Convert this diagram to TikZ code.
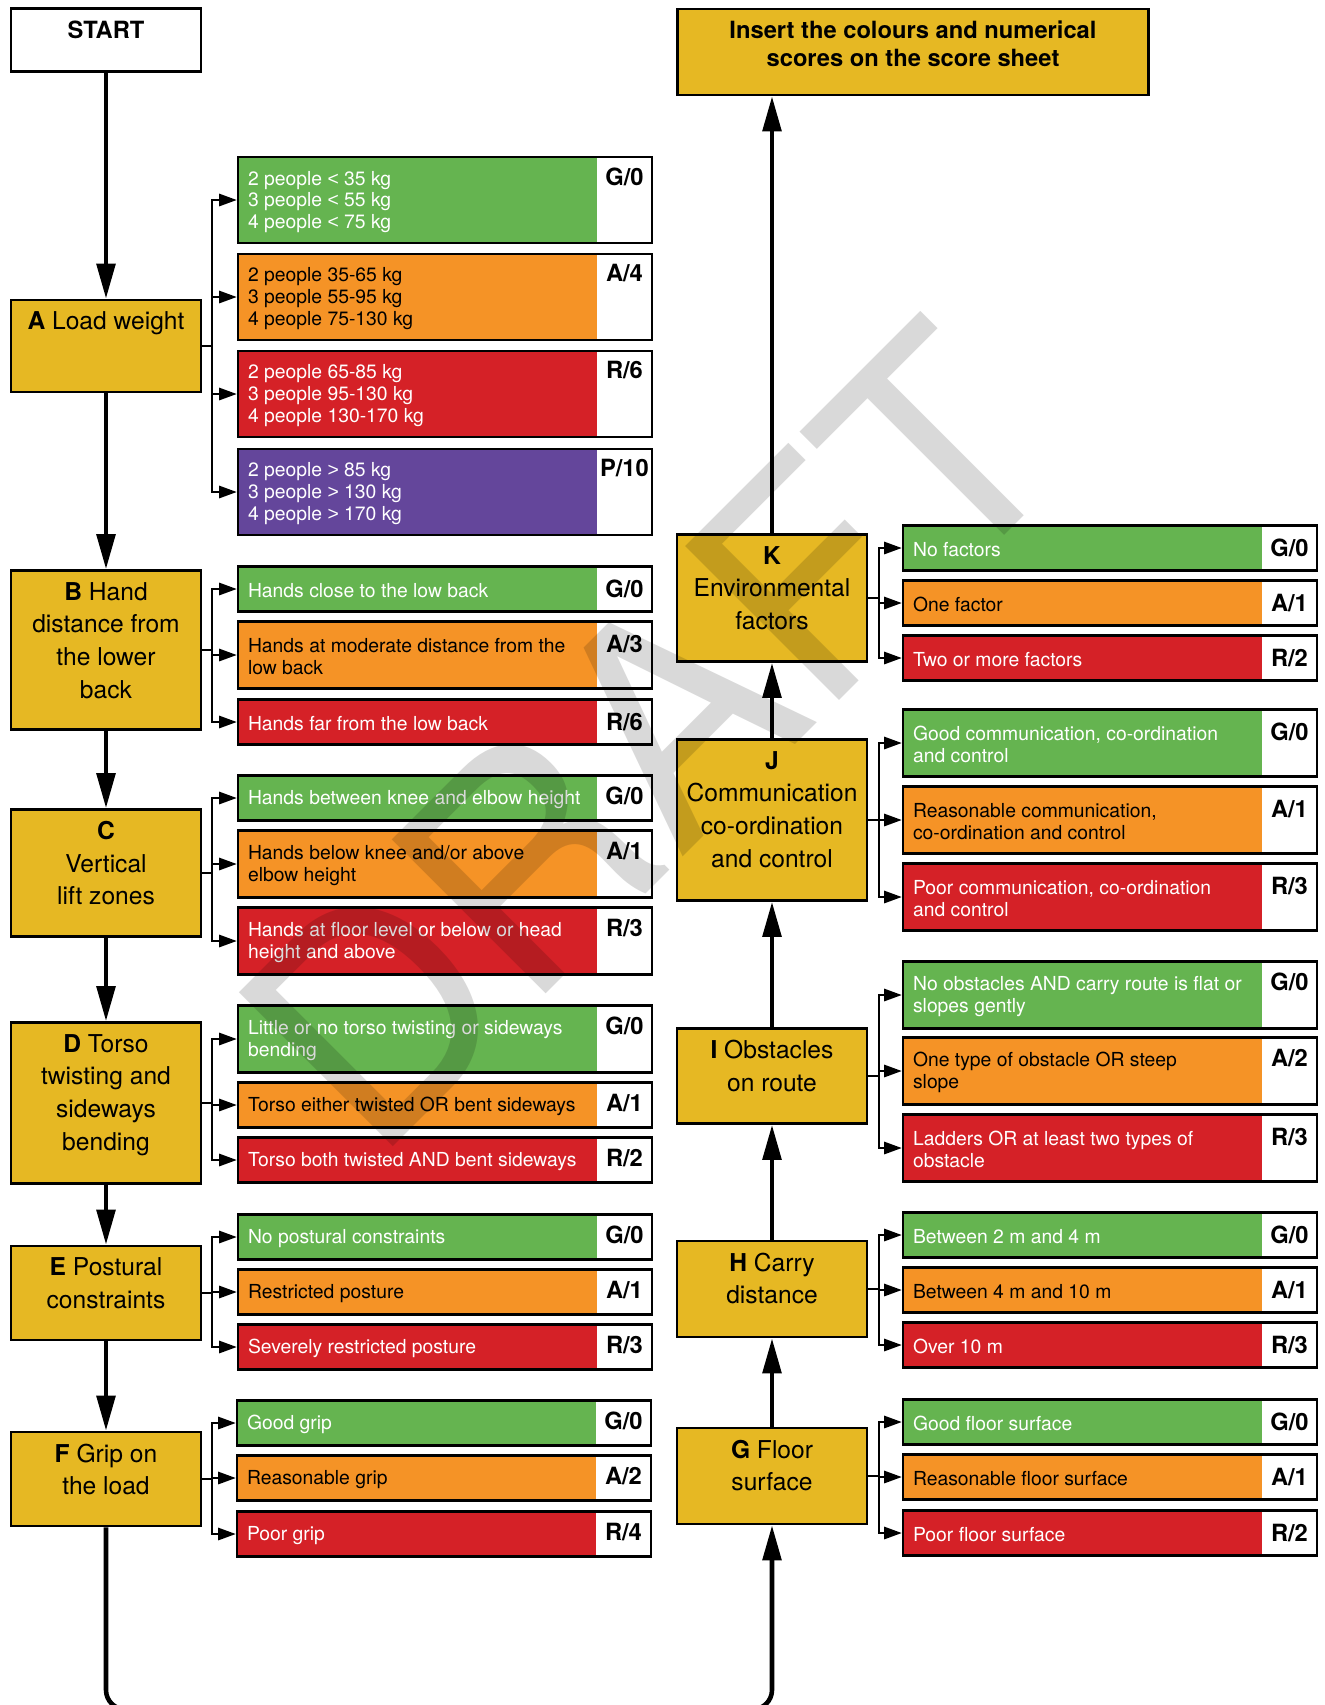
\documentclass[tikz,border=0pt]{standalone}
\usepackage{fontspec}
\setmainfont{TeX Gyre Heros}
\newfontfamily\relfont{Liberation Sans}
\usetikzlibrary{arrows.meta}

\definecolor{stagey}{RGB}{230,184,35}
\definecolor{boxgreen}{RGB}{101,180,80}
\definecolor{boxorange}{RGB}{245,147,38}
\definecolor{boxred}{RGB}{213,33,39}
\definecolor{boxpurple}{RGB}{100,70,155}

% text of an option row and its score cell
\newcommand{\choice}[2]{\hspace*{0.2cm}\parbox[t]{6.98cm}{\raggedright #1}\parbox[t]{1.1cm}{\leavevmode\centering\bfseries\fontsize{13.5}{14}\selectfont\textcolor{black}{#2}}}
\newcommand{\lt}{{\relfont<}}
\newcommand{\gt}{{\relfont>}}

\tikzset{
  stage/.style={draw=black, line width=1.5pt, fill=stagey, minimum width=3.8cm, inner sep=0pt},
  stagetext/.style={anchor=north, yshift=-0.26cm, align=center, inner sep=0pt, font=\fontsize{14}{18.5}\selectfont},
  opt/.style={draw=black, line width=1.5pt, inner sep=0pt, minimum width=8.28cm, font=\fontsize{11}{12.3}\selectfont,
    path picture={\fill[white] ([xshift=-1.1cm]path picture bounding box.north east) rectangle (path picture bounding box.south east);}},
  optg/.style={opt, fill=boxgreen, text=white},
  opta/.style={opt, fill=boxorange, text=black},
  optr/.style={opt, fill=boxred, text=white},
  optp/.style={opt, fill=boxpurple, text=white},
  oneline/.style={minimum height=0.9cm},
  twoline/.style={minimum height=1.34cm},
  threeline/.style={minimum height=1.72cm},
  flow/.style={line width=2.6pt, -{Triangle[length=20pt, width=10.5pt]}},
  branch/.style={line width=1.1pt, -{Triangle[length=10pt, width=7pt]}},
  draft/.style={rotate=45, anchor=base west, inner sep=0pt, text=black, text opacity=0.15, font=\fontsize{170}{170}\selectfont}
}

\begin{document}
\begin{tikzpicture}[x=0.02cm, y=-0.02cm]
  \useasboundingbox (0,0) rectangle (1325,1705);
  \clip (0,0) rectangle (1325,1705);

  % left column
  \node[stage, fill=white, minimum height=1.26cm, label={[stagetext, font=\bfseries\fontsize{13.5}{16}\selectfont]north:START}] (start) at (106,40) {};
  \node[stage, minimum height=1.84cm, label={[stagetext]north:{\textbf{A} Load weight}}] (loadA) at (106,346) {};
  \node[stage, minimum height=3.18cm, label={[stagetext]north:{\textbf{B} Hand\\distance from\\the lower\\back}}] (handB) at (106,650) {};
  \node[stage, minimum height=2.54cm, label={[stagetext]north:{\textbf{C}\\Vertical\\lift zones}}] (liftC) at (106,873) {};
  \node[stage, minimum height=3.22cm, label={[stagetext]north:{\textbf{D} Torso\\twisting and\\sideways\\bending}}] (torsoD) at (106,1103) {};
  \node[stage, minimum height=1.88cm, label={[stagetext]north:{\textbf{E} Postural\\constraints}}] (postureE) at (106,1293) {};
  \node[stage, minimum height=1.88cm, label={[stagetext]north:{\textbf{F} Grip on\\the load}}] (gripF) at (106,1479) {};

  % right column
  \node[stage, minimum width=9.42cm, minimum height=1.72cm, label={[stagetext, font=\bfseries\fontsize{13.5}{16}\selectfont]north:{Insert the colours and numerical\\scores on the score sheet}}] (scoresheet) at (913,52) {};
  \node[stage, minimum height=2.54cm, label={[stagetext]north:{\textbf{K}\\Environmental\\factors}}] (envK) at (772,598) {};
  \node[stage, minimum height=3.22cm, label={[stagetext]north:{\textbf{J}\\Communication\\co-ordination\\and control}}] (commJ) at (772,820) {};
  \node[stage, minimum height=1.9cm, label={[stagetext]north:{\textbf{I} Obstacles\\on route}}] (routeI) at (772,1076) {};
  \node[stage, minimum height=1.92cm, label={[stagetext]north:{\textbf{H} Carry\\distance}}] (carryH) at (772,1289) {};
  \node[stage, minimum height=1.92cm, label={[stagetext]north:{\textbf{G} Floor\\surface}}] (floorG) at (772,1476) {};

  % options A
  \node[optg, threeline] (a1) at (445,200) {\choice{2 people \lt{} 35 kg\\3 people \lt{} 55 kg\\4 people \lt{} 75 kg}{G/0}};
  \node[opta, threeline] (a2) at (445,297) {\choice{2 people 35-65 kg\\3 people 55-95 kg\\4 people 75-130 kg}{A/4}};
  \node[optr, threeline] (a3) at (445,394) {\choice{2 people 65-85 kg\\3 people 95-130 kg\\4 people 130-170 kg}{R/6}};
  \node[optp, threeline] (a4) at (445,492) {\choice{2 people \gt{} 85 kg\\3 people \gt{} 130 kg\\4 people \gt{} 170 kg}{P/10}};
  % options B
  \node[optg, oneline] (b1) at (445,589) {\choice{Hands close to the low back}{G/0}};
  \node[opta, twoline] (b2) at (445,655) {\choice{Hands at moderate distance from the\\low back}{A/3}};
  \node[optr, oneline] (b3) at (445,722) {\choice{Hands far from the low back}{R/6}};
  % options C
  \node[optg, oneline] (c1) at (445,798) {\choice{Hands between knee and elbow height}{G/0}};
  \node[opta, twoline] (c2) at (445,864) {\choice{Hands below knee and/or above\\elbow height}{A/1}};
  \node[optr, twoline] (c3) at (445,941) {\choice{Hands at floor level or below or head\\height and above}{R/3}};
  % options D
  \node[optg, twoline] (d1) at (445,1039) {\choice{Little or no torso twisting or sideways\\bending}{G/0}};
  \node[opta, oneline] (d2) at (445,1105) {\choice{Torso either twisted OR bent sideways}{A/1}};
  \node[optr, oneline] (d3) at (445,1160) {\choice{Torso both twisted AND bent sideways}{R/2}};
  % options E
  \node[optg, oneline] (e1) at (445,1237) {\choice{No postural constraints}{G/0}};
  \node[opta, oneline] (e2) at (445,1292) {\choice{Restricted posture}{A/1}};
  \node[optr, oneline] (e3) at (445,1347) {\choice{Severely restricted posture}{R/3}};
  % options F
  \node[optg, oneline] (f1) at (444,1423) {\choice{Good grip}{G/0}};
  \node[opta, oneline] (f2) at (444,1478) {\choice{Reasonable grip}{A/2}};
  \node[optr, oneline] (f3) at (444,1534) {\choice{Poor grip}{R/4}};

  % options K
  \node[optg, oneline] (k1) at (1110,548) {\choice{No factors}{G/0}};
  \node[opta, oneline] (k2) at (1110,603) {\choice{One factor}{A/1}};
  \node[optr, oneline] (k3) at (1110,658) {\choice{Two or more factors}{R/2}};
  % options J
  \node[optg, twoline] (j1) at (1110,743) {\choice{Good communication, co-ordination\\and control}{G/0}};
  \node[opta, twoline] (j2) at (1110,820) {\choice{Reasonable communication,\\co-ordination and control}{A/1}};
  \node[optr, twoline] (j3) at (1110,897) {\choice{Poor communication, co-ordination\\and control}{R/3}};
  % options I
  \node[optg, twoline] (i1) at (1110,995) {\choice{No obstacles AND carry route is flat or\\slopes gently}{G/0}};
  \node[opta, twoline] (i2) at (1110,1071) {\choice{One type of obstacle OR steep\\slope}{A/2}};
  \node[optr, twoline] (i3) at (1110,1148) {\choice{Ladders OR at least two types of\\obstacle}{R/3}};
  % options H
  \node[optg, oneline] (h1) at (1110,1235) {\choice{Between 2 m and 4 m}{G/0}};
  \node[opta, oneline] (h2) at (1110,1290) {\choice{Between 4 m and 10 m}{A/1}};
  \node[optr, oneline] (h3) at (1110,1345) {\choice{Over 10 m}{R/3}};
  % options G
  \node[optg, oneline] (g1) at (1110,1422) {\choice{Good floor surface}{G/0}};
  \node[opta, oneline] (g2) at (1110,1477) {\choice{Reasonable floor surface}{A/1}};
  \node[optr, oneline] (g3) at (1110,1533) {\choice{Poor floor surface}{R/2}};

  % main flow
  \draw[flow] (start) -- (loadA);
  \draw[flow] (loadA) -- (handB);
  \draw[flow] (handB) -- (liftC);
  \draw[flow] (liftC) -- (torsoD);
  \draw[flow] (torsoD) -- (postureE);
  \draw[flow] (postureE) -- (gripF);
  \draw[flow, rounded corners=11pt] (gripF.south) -- ++(0,182) -| (floorG.south);
  \draw[flow] (floorG) -- (carryH);
  \draw[flow] (carryH) -- (routeI);
  \draw[flow] (routeI) -- (commJ);
  \draw[flow] (commJ) -- (envK);
  \draw[flow] (envK.north) -- (envK.north |- scoresheet.south);

  % branches
  \foreach \o in {a1,a2,a3,a4} \draw[branch] (loadA.east) -- ++(10,0) |- (\o.west);
  \foreach \o in {b1,b2,b3} \draw[branch] (handB.east) -- ++(10,0) |- (\o.west);
  \foreach \o in {c1,c2,c3} \draw[branch] (liftC.east) -- ++(10,0) |- (\o.west);
  \foreach \o in {d1,d2,d3} \draw[branch] (torsoD.east) -- ++(10,0) |- (\o.west);
  \foreach \o in {e1,e2,e3} \draw[branch] (postureE.east) -- ++(10,0) |- (\o.west);
  \foreach \o in {f1,f2,f3} \draw[branch] (gripF.east) -- ++(10,0) |- (\o.west);
  \foreach \o in {k1,k2,k3} \draw[branch] (envK.east) -- ++(11,0) |- (\o.west);
  \foreach \o in {j1,j2,j3} \draw[branch] (commJ.east) -- ++(11,0) |- (\o.west);
  \foreach \o in {i1,i2,i3} \draw[branch] (routeI.east) -- ++(11,0) |- (\o.west);
  \foreach \o in {h1,h2,h3} \draw[branch] (carryH.east) -- ++(11,0) |- (\o.west);
  \foreach \o in {g1,g2,g3} \draw[branch] (floorG.east) -- ++(11,0) |- (\o.west);

  % watermark
  \node[draft] (watermark) at (374,1166) {DRAFT};
\end{tikzpicture}
\end{document}
